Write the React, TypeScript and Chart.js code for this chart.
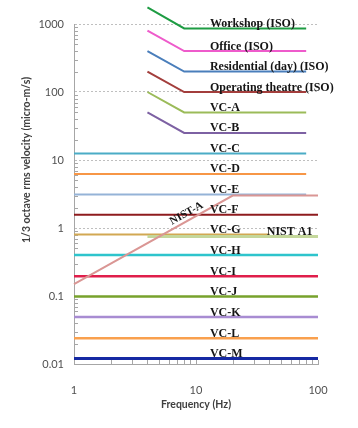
import React, { useEffect, useRef } from 'react';
import { Chart, registerables } from 'chart.js';

Chart.register(...registerables);

// ---- data ----
const isoFreq = [4, 8, 80];
const workshop = [1750, 860, 860];
const office = [800, 400, 400];
const residential = [400, 200, 200];
const operatingTheatre = [200, 100, 100];
const vcA = [100, 50, 50];
const vcB = [50, 25, 25];

const vcShortFreq = [1, 80];
const vcC = [12.5, 12.5];
const vcD = [6.25, 6.25];
const vcE = [3.12, 3.12];

const vcLongFreq = [1, 100];
const vcF = [1.56, 1.56];
const vcGFreq = [1, 40];
const vcG = [0.8, 0.8];
const nistA1Freq = [4, 100];
const nistA1 = [0.75, 0.75];
const vcH = [0.4, 0.4];
const vcI = [0.195, 0.195];
const vcJ = [0.098, 0.098];
const vcK = [0.049, 0.049];
const vcL = [0.024, 0.024];
const vcM = [0.012, 0.012];

const nistAFreq = [1, 20, 100];
const nistA = [0.15, 3, 3];

const xTickLabels = [1, 10, 100];
const yTickLabels = [0.01, 0.1, 1, 10, 100, 1000];

const xTitle = 'Frequency (Hz)';
const yTitle = '1/3 octave rms velocity (micro-m/s)';

// ---- series definitions (styles kept separate from values) ----
type Series = {
  name: string;
  freq: number[];
  values: number[];
  color: string;
  width: number;
  labelAt?: number; // frequency where the text label starts
};

const series: Series[] = [
  { name: 'NIST-A', freq: nistAFreq, values: nistA, color: '#DA9694', width: 2 },
  { name: 'NIST A1', freq: nistA1Freq, values: nistA1, color: '#C4D79B', width: 3, labelAt: 38 },
  { name: 'Workshop (ISO)', freq: isoFreq, values: workshop, color: '#1E9C43', width: 2, labelAt: 13 },
  { name: 'Office (ISO)', freq: isoFreq, values: office, color: '#EE5BCB', width: 2, labelAt: 13 },
  { name: 'Residential (day) (ISO)', freq: isoFreq, values: residential, color: '#4A7EBB', width: 2, labelAt: 13 },
  { name: 'Operating theatre (ISO)', freq: isoFreq, values: operatingTheatre, color: '#A33E3C', width: 2, labelAt: 13 },
  { name: 'VC-A', freq: isoFreq, values: vcA, color: '#9BBB59', width: 2, labelAt: 13 },
  { name: 'VC-B', freq: isoFreq, values: vcB, color: '#7D61A3', width: 2, labelAt: 13 },
  { name: 'VC-C', freq: vcShortFreq, values: vcC, color: '#4BACC6', width: 2, labelAt: 13 },
  { name: 'VC-D', freq: vcShortFreq, values: vcD, color: '#F79646', width: 2, labelAt: 13 },
  { name: 'VC-E', freq: vcShortFreq, values: vcE, color: '#95B3D7', width: 2, labelAt: 13 },
  { name: 'VC-F', freq: vcLongFreq, values: vcF, color: '#8E1B1E', width: 2, labelAt: 13 },
  { name: 'VC-G', freq: vcGFreq, values: vcG, color: '#D2A852', width: 2, labelAt: 13 },
  { name: 'VC-H', freq: vcLongFreq, values: vcH, color: '#2EC4CC', width: 2.5, labelAt: 13 },
  { name: 'VC-I', freq: vcLongFreq, values: vcI, color: '#E01E4B', width: 2.5, labelAt: 13 },
  { name: 'VC-J', freq: vcLongFreq, values: vcJ, color: '#77A22C', width: 2.5, labelAt: 13 },
  { name: 'VC-K', freq: vcLongFreq, values: vcK, color: '#A88CD2', width: 2.5, labelAt: 13 },
  { name: 'VC-L', freq: vcLongFreq, values: vcL, color: '#F9A04E', width: 2.5, labelAt: 13 },
  { name: 'VC-M', freq: vcLongFreq, values: vcM, color: '#1529A3', width: 3, labelAt: 13 },
];

const W = 358;
const H = 428;

const isDecade = (v: number) => {
  const l = Math.log10(v);
  return Math.abs(l - Math.round(l)) < 1e-6;
};
const fmt = (v: number) => {
  const e = Math.round(Math.log10(v));
  return e >= 0 ? String(Math.round(v)) : v.toFixed(-e);
};

const decorPlugin = {
  id: 'decor',
  beforeDatasetsDraw(chart: any) {
    const { ctx, scales } = chart;
    const x = scales.x;
    const y = scales.y;
    ctx.save();
    ctx.strokeStyle = '#A6A6A6';
    ctx.lineWidth = 1;
    ctx.beginPath();
    // minor ticks on y axis (inside)
    for (let i = 0; i < yTickLabels.length - 1; i++) {
      for (let m = 2; m <= 9; m++) {
        const py = Math.round(y.getPixelForValue(m * yTickLabels[i])) + 0.5;
        ctx.moveTo(x.left, py);
        ctx.lineTo(x.left + 4, py);
      }
    }
    // minor ticks on x axis (inside)
    for (let i = 0; i < xTickLabels.length - 1; i++) {
      for (let m = 2; m <= 10; m++) {
        const px = Math.round(x.getPixelForValue(m * xTickLabels[i])) + 0.5;
        ctx.moveTo(px, y.bottom);
        ctx.lineTo(px, y.bottom - 4);
      }
    }
    ctx.stroke();
    ctx.restore();
  },
  afterDatasetsDraw(chart: any) {
    const { ctx, scales } = chart;
    const x = scales.x;
    const y = scales.y;
    ctx.save();
    ctx.fillStyle = '#151515';
    ctx.font = 'bold 12px "Liberation Serif", "DejaVu Serif", serif';
    ctx.textAlign = 'left';
    ctx.textBaseline = 'alphabetic';
    series.forEach((s) => {
      if (s.labelAt == null) return;
      const v = s.values[s.values.length - 1];
      ctx.fillText(s.name, x.getPixelForValue(s.labelAt), y.getPixelForValue(v) - 1.5);
    });
    // rotated NIST-A label along its sloped segment
    const x1 = x.getPixelForValue(nistAFreq[0]);
    const y1 = y.getPixelForValue(nistA[0]);
    const x2 = x.getPixelForValue(nistAFreq[1]);
    const y2 = y.getPixelForValue(nistA[1]);
    const ang = Math.atan2(y2 - y1, x2 - x1);
    const t = 0.73;
    ctx.translate(x1 + (x2 - x1) * t, y1 + (y2 - y1) * t);
    ctx.rotate(ang);
    ctx.font = 'bold 11px "Liberation Serif", "DejaVu Serif", serif';
    ctx.textAlign = 'center';
    ctx.fillText('NIST-A', 0, -4);
    ctx.restore();

    // axis titles
    ctx.save();
    ctx.fillStyle = '#404040';
    ctx.font = 'bold 10.5px Lato, "Liberation Sans", sans-serif';
    ctx.textAlign = 'center';
    ctx.textBaseline = 'middle';
    ctx.fillText(xTitle, 196, 405);
    ctx.translate(27, 160);
    ctx.rotate(-Math.PI / 2);
    ctx.fillText(yTitle, 0, 0);
    ctx.restore();
  },
};

export default function App() {
  const ref = useRef<HTMLCanvasElement | null>(null);

  useEffect(() => {
    const canvas = ref.current;
    if (!canvas) return;
    const chart = new Chart(canvas, {
      type: 'scatter',
      data: {
        datasets: series.map((s) => ({
          label: s.name,
          data: s.freq.map((f, i) => ({ x: f, y: s.values[i] })),
          showLine: true,
          borderColor: s.color,
          backgroundColor: s.color,
          borderWidth: s.width,
          pointRadius: 0,
          pointHoverRadius: 0,
          tension: 0,
          clip: false as any,
        })),
      },
      options: {
        animation: false,
        responsive: false,
        maintainAspectRatio: false,
        devicePixelRatio: 1,
        layout: { padding: { top: 24, right: 40, left: 0, bottom: 0 } },
        plugins: {
          legend: { display: false },
          tooltip: { enabled: false },
          title: { display: false },
        },
        scales: {
          x: {
            type: 'logarithmic',
            min: 1,
            max: 100,
            afterFit: (s: any) => {
              s.height = 64;
            },
            grid: { display: false },
            border: { display: true, color: '#A6A6A6', width: 1 },
            ticks: {
              autoSkip: false,
              maxRotation: 0,
              padding: 12,
              color: '#505050',
              font: { family: 'Lato, "Liberation Sans", sans-serif', size: 11 },
              callback: (v: any) => (xTickLabels.includes(Number(v)) ? fmt(Number(v)) : ''),
            },
          },
          y: {
            type: 'logarithmic',
            min: 0.01,
            max: 1000,
            afterFit: (s: any) => {
              s.width = 74;
            },
            grid: {
              drawTicks: false,
              lineWidth: 1,
              color: (c: any) =>
                c.tick && isDecade(c.tick.value) ? '#BFBFBF' : 'rgba(0,0,0,0)',
            },
            border: { display: true, color: '#A6A6A6', width: 1, dash: [2, 2] },
            ticks: {
              autoSkip: false,
              padding: 10,
              color: '#505050',
              font: { family: 'Lato, "Liberation Sans", sans-serif', size: 11 },
              callback: (v: any) => {
                const n = Number(v);
                return isDecade(n) && yTickLabels.some((t) => Math.abs(t - n) / t < 1e-6)
                  ? fmt(n)
                  : '';
              },
            },
          },
        },
      } as any,
      plugins: [decorPlugin],
    });
    return () => chart.destroy();
  }, []);

  return (
    <div style={{ position: 'fixed', left: 0, top: 0, width: W, height: H, background: '#fff' }}>
      <canvas ref={ref} width={W} height={H} style={{ width: W, height: H, display: 'block' }} />
    </div>
  );
}
